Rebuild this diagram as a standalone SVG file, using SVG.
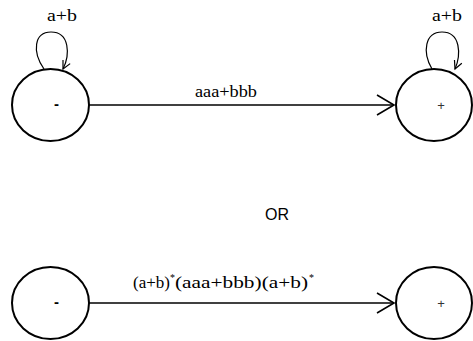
<svg xmlns="http://www.w3.org/2000/svg" width="473" height="341" viewBox="0 0 473 341">
<style>
.st{fill:none;stroke:#000;stroke-width:2}
.ln{fill:none;stroke:#000;stroke-width:1.6}
.lp{fill:none;stroke:#000;stroke-width:1.2}
.lb{font-family:"Liberation Serif",serif;font-size:16px;fill:#000}
.sp{font-family:"Liberation Serif",serif;font-size:10px;fill:#000}
.mn{font-family:"Liberation Sans",sans-serif;font-size:15px;font-weight:bold;fill:#000}
.pl{font-family:"Liberation Sans",sans-serif;font-size:13px;fill:#333}
.or{font-family:"Liberation Sans",sans-serif;font-size:16px;fill:#000}
</style>
<defs>
<marker id="big" markerUnits="userSpaceOnUse" markerWidth="22" markerHeight="24" refX="18" refY="11" orient="auto">
<path d="M1,1 L18,11 L1,21" fill="none" stroke="#000" stroke-width="1.6"/>
</marker>
<marker id="sm" markerUnits="userSpaceOnUse" markerWidth="12" markerHeight="12" refX="9" refY="5" orient="auto">
<path d="M1,1 L9,5 L1,9" fill="none" stroke="#000" stroke-width="1.2"/>
</marker>
</defs>
<g id="connectors">
<path class="lp" d="M44,69 C32,52 34,32 51,32 C70,32 70,55 63,69" marker-end="url(#sm)"/>
<text class="lb" x="47" y="21" textLength="30" lengthAdjust="spacingAndGlyphs">a+b</text>
<path class="lp" d="M432,69 C422,52 425,32 442,32 C461,32 461,55 455,69" marker-end="url(#sm)"/>
<text class="lb" x="432" y="21" textLength="30" lengthAdjust="spacingAndGlyphs">a+b</text>
<line class="ln" x1="89" y1="105" x2="394" y2="105" marker-end="url(#big)"/>
<text class="lb" x="195" y="97" textLength="62" lengthAdjust="spacingAndGlyphs">aaa+bbb</text>
<line class="ln" x1="89" y1="303" x2="394" y2="303" marker-end="url(#big)"/>
<text class="lb" x="133" y="288" textLength="37" lengthAdjust="spacingAndGlyphs">(a+b)</text>
<text class="sp" x="170" y="281">*</text>
<text class="lb" x="175" y="288" textLength="133" lengthAdjust="spacingAndGlyphs">(aaa+bbb)(a+b)</text>
<text class="sp" x="309" y="281">*</text>
</g>
<g id="s1">
<ellipse class="st" cx="50.5" cy="105" rx="38.5" ry="36"/>
<text class="mn" x="56.5" y="109" text-anchor="middle">-</text>
</g>
<g id="s2">
<ellipse class="st" cx="434" cy="105" rx="38" ry="36"/>
<text class="pl" x="441" y="110" text-anchor="middle">+</text>
</g>
<text class="or" x="265" y="220">OR</text>
<g id="s3">
<ellipse class="st" cx="50.5" cy="303" rx="38.5" ry="36"/>
<text class="mn" x="56.5" y="307" text-anchor="middle">-</text>
</g>
<g id="s4">
<ellipse class="st" cx="434" cy="303" rx="38" ry="36"/>
<text class="pl" x="441" y="308" text-anchor="middle">+</text>
</g>
</svg>
